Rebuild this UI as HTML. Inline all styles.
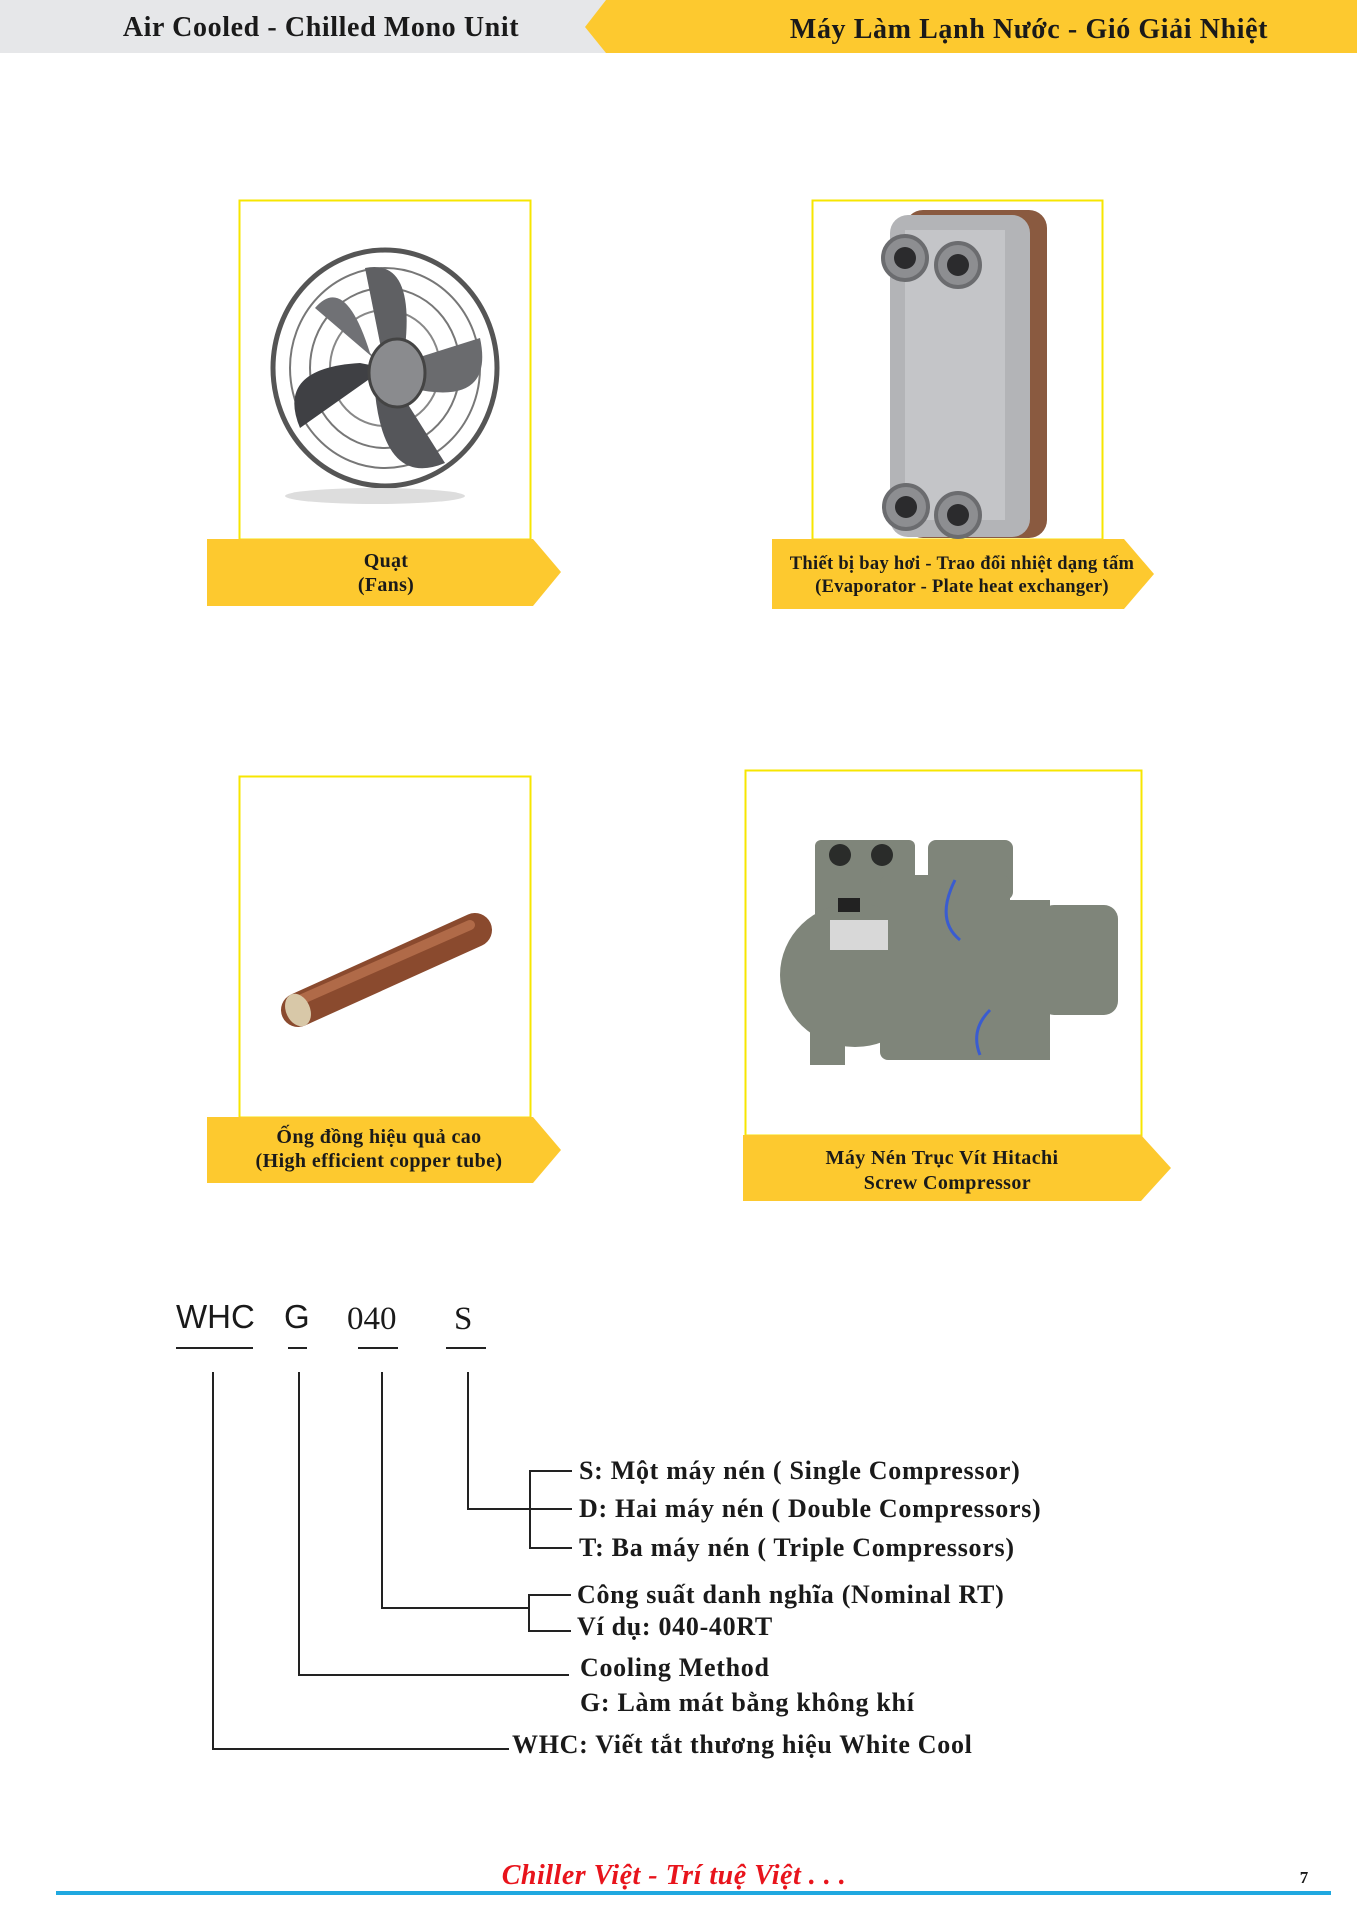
<!DOCTYPE html>
<html><head><meta charset="utf-8"><style>
html,body{margin:0;padding:0;background:#fff}
body{width:1357px;height:1920px;position:relative;overflow:hidden;font-family:"Liberation Serif",serif}
.t{position:absolute;white-space:nowrap;font-weight:bold;color:#1a1a1a}
.l{font-size:26px;letter-spacing:0.7px}
</style></head><body>
<svg width="1357" height="1920" style="position:absolute;left:0;top:0">
<rect x="0" y="0" width="606" height="53" fill="#e6e7e9"/>
<polygon points="606,0 1357,0 1357,53 606,53 585,27" fill="#fdc92f"/>
<rect x="239.5" y="200.5" width="291" height="339" fill="#fff" stroke="#f7e600" stroke-width="2"/>
<rect x="812.5" y="200.5" width="290" height="339" fill="#fff" stroke="#f7e600" stroke-width="2"/>
<rect x="239.5" y="776.5" width="291" height="341" fill="#fff" stroke="#f7e600" stroke-width="2"/>
<rect x="745.5" y="770.5" width="396" height="365" fill="#fff" stroke="#f7e600" stroke-width="2"/>
<polygon points="207,539 533,539 561,572 533,606 207,606" fill="#fdc92f"/>
<polygon points="772,539 1124,539 1154,574 1124,609 772,609" fill="#fdc92f"/>
<polygon points="207,1117 533,1117 561,1150 533,1183 207,1183" fill="#fdc92f"/>
<polygon points="743,1135 1141,1135 1171,1168 1141,1201 743,1201" fill="#fdc92f"/>
<g transform="translate(385,368)">
<ellipse cx="0" cy="0" rx="112" ry="118" fill="none" stroke="#555" stroke-width="5"/>
<ellipse cx="0" cy="0" rx="95" ry="100" fill="none" stroke="#777" stroke-width="2"/>
<ellipse cx="0" cy="0" rx="75" ry="80" fill="none" stroke="#777" stroke-width="2"/>
<ellipse cx="0" cy="0" rx="55" ry="58" fill="none" stroke="#888" stroke-width="2"/>
<path d="M0,0 L-20,-100 Q30,-110 20,-20Z" fill="#5f6063"/>
<path d="M0,0 L95,-30 Q110,40 25,20Z" fill="#6a6b6e"/>
<path d="M0,0 L60,95 Q0,120 -10,25Z" fill="#55565a"/>
<path d="M0,0 L-85,60 Q-110,0 -25,-5Z" fill="#3f4044"/>
<path d="M0,0 L-70,-60 Q-40,-95 -15,-15Z" fill="#707175"/>
<ellipse cx="12" cy="5" rx="28" ry="34" fill="#8a8b8e" stroke="#444" stroke-width="3"/>
<ellipse cx="-10" cy="128" rx="90" ry="8" fill="#ddd"/>
</g>
<rect x="905" y="210" width="142" height="328" rx="18" fill="#8a5a40"/>
<rect x="890" y="215" width="140" height="322" rx="18" fill="#b3b4b7"/>
<rect x="905" y="230" width="100" height="290" fill="#c4c5c8"/>
<g fill="#8d8e91" stroke="#6b6c6f" stroke-width="4">
<circle cx="905" cy="258" r="22"/><circle cx="958" cy="265" r="22"/>
<circle cx="906" cy="507" r="22"/><circle cx="958" cy="515" r="22"/></g>
<g fill="#2b2b2d"><circle cx="905" cy="258" r="11"/><circle cx="958" cy="265" r="11"/>
<circle cx="906" cy="507" r="11"/><circle cx="958" cy="515" r="11"/></g>
<line x1="298" y1="1010" x2="475" y2="930" stroke="#8a4a2e" stroke-width="34" stroke-linecap="round"/>
<line x1="300" y1="1000" x2="470" y2="925" stroke="#b06a48" stroke-width="10" stroke-linecap="round"/>
<ellipse cx="298" cy="1010" rx="12" ry="17" fill="#d8c8a8" transform="rotate(-24 298 1010)"/>
<g fill="#7f857a">
<rect x="815" y="840" width="100" height="80" rx="6"/>
<rect x="928" y="840" width="85" height="60" rx="8"/>
<ellipse cx="855" cy="975" rx="75" ry="72"/>
<rect x="880" y="875" width="130" height="185" rx="8"/>
<rect x="1000" y="900" width="50" height="160"/>
<rect x="1040" y="905" width="78" height="110" rx="14"/>
<rect x="810" y="1020" width="35" height="45"/>
</g>
<rect x="830" y="920" width="58" height="30" fill="#d8d8d8"/>
<rect x="838" y="898" width="22" height="14" fill="#222"/>
<circle cx="840" cy="855" r="11" fill="#2a2c2a"/><circle cx="882" cy="855" r="11" fill="#2a2c2a"/>
<path d="M955,880 q-20,40 5,60 M990,1010 q-20,20 -10,45" stroke="#3a5cd0" stroke-width="3" fill="none"/>
<g stroke="#222" stroke-width="2" fill="none">
<line x1="176" y1="1348" x2="253" y2="1348"/>
<line x1="288" y1="1348" x2="307" y2="1348"/>
<line x1="358" y1="1348" x2="398" y2="1348"/>
<line x1="446" y1="1348" x2="486" y2="1348"/>
<polyline points="213,1372 213,1749 509,1749"/>
<polyline points="299,1372 299,1675 569,1675"/>
<polyline points="382,1372 382,1608 529,1608"/>
<polyline points="468,1372 468,1509 572,1509"/>
<polyline points="572,1471 530,1471 530,1548 572,1548"/>
<polyline points="571,1595 529,1595 529,1631 571,1631"/>
</g>
<rect x="56" y="1891" width="1275" height="4" fill="#1fa8e0"/>
</svg>
<div class="t" style="left:321px;top:28px;transform:translate(-50%,-50%);font-size:28px;letter-spacing:0.6px">Air Cooled - Chilled Mono Unit</div>
<div class="t" style="left:1029px;top:30px;transform:translate(-50%,-50%);font-size:28px;letter-spacing:0.6px">Máy Làm Lạnh Nước - Gió Giải Nhiệt</div>
<div class="t" style="left:386px;top:573px;transform:translate(-50%,-50%);font-size:20px;text-align:center;line-height:24px;letter-spacing:0.3px">Quạt<br>(Fans)</div>
<div class="t" style="left:962px;top:576px;transform:translate(-50%,-50%);font-size:18.5px;text-align:center;line-height:23px;letter-spacing:0.3px">Thiết bị bay hơi - Trao đổi nhiệt dạng tấm<br>(Evaporator - Plate heat exchanger)</div>
<div class="t" style="left:379px;top:1149px;transform:translate(-50%,-50%);font-size:20px;text-align:center;line-height:24px;letter-spacing:0.4px">Ống đồng hiệu quả cao<br>(High efficient copper tube)</div>
<div class="t" style="left:942px;top:1171px;transform:translate(-50%,-50%);font-size:20px;text-align:center;line-height:25px;letter-spacing:0.4px">Máy Nén Trục Vít Hitachi<br>&nbsp;&nbsp;Screw Compressor</div>
<div class="t" style="left:176px;top:1298px;font-family:'Liberation Sans',sans-serif;font-weight:normal;font-size:33px">WHC</div>
<div class="t" style="left:284px;top:1298px;font-family:'Liberation Sans',sans-serif;font-weight:normal;font-size:33px">G</div>
<div class="t" style="left:347px;top:1301px;font-weight:normal;font-size:33px">040</div>
<div class="t" style="left:454px;top:1301px;font-weight:normal;font-size:33px">S</div>
<div class="t l" style="left:579px;top:1456px">S: Một máy nén ( Single Compressor)</div>
<div class="t l" style="left:579px;top:1494px">D: Hai máy nén ( Double Compressors)</div>
<div class="t l" style="left:579px;top:1533px">T: Ba máy nén ( Triple Compressors)</div>
<div class="t l" style="left:577px;top:1580px">Công suất danh nghĩa (Nominal RT)</div>
<div class="t l" style="left:577px;top:1612px">Ví dụ: 040-40RT</div>
<div class="t l" style="left:580px;top:1653px">Cooling Method</div>
<div class="t l" style="left:580px;top:1688px">G: Làm mát bằng không khí</div>
<div class="t l" style="left:512px;top:1730px">WHC: Viết tắt thương hiệu White Cool</div>
<div class="t" style="left:674px;top:1876px;transform:translate(-50%,-50%);font-size:28px;letter-spacing:0.5px;font-style:italic;color:#e8141c">Chiller Việt - Trí tuệ Việt . . .</div>
<div class="t" style="left:1304px;top:1878px;transform:translate(-50%,-50%);font-size:17px">7</div>
</body></html>
